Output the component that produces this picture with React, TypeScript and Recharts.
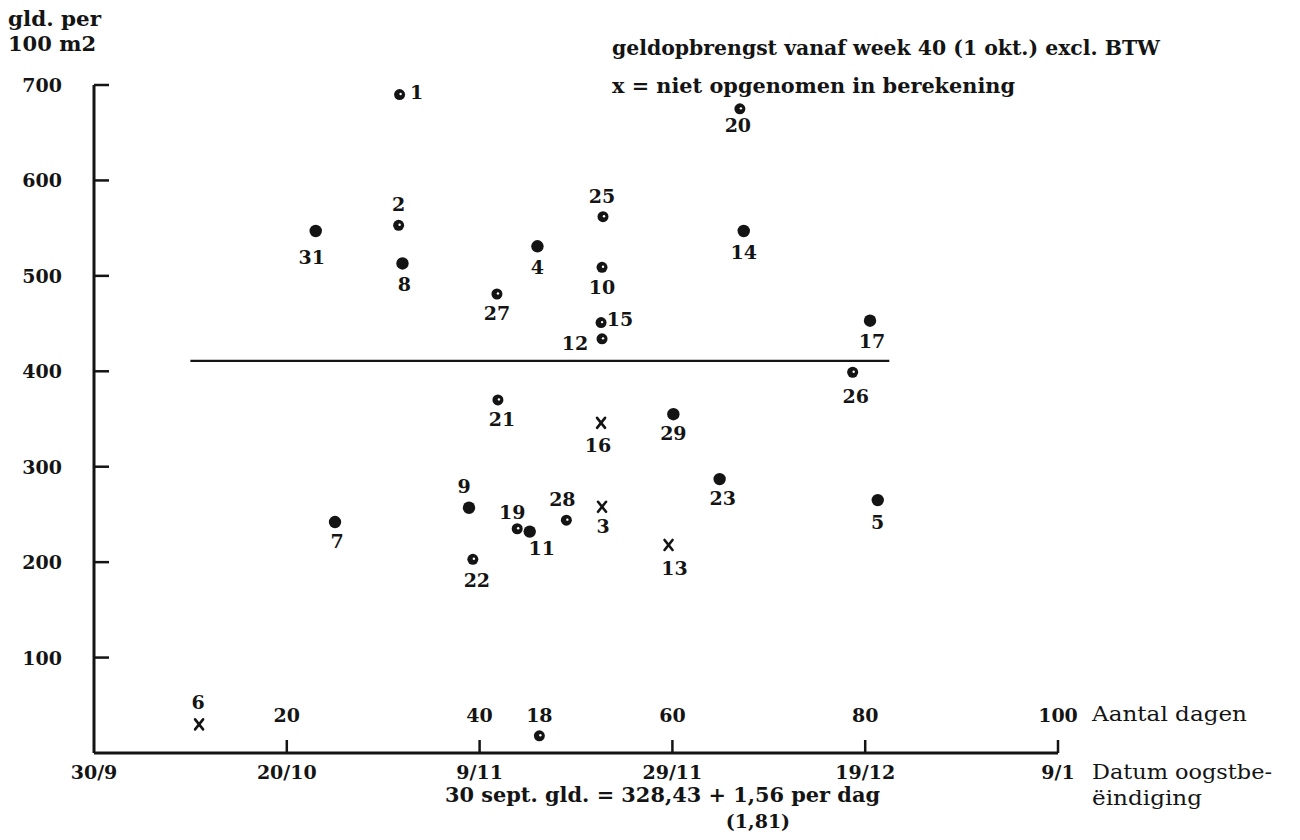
import React from "react";
import { ScatterChart, Scatter, XAxis, YAxis, ReferenceLine } from "recharts";

// ---- data ----
const pointIds = [1, 2, 3, 4, 5, 6, 7, 8, 9, 10, 11, 12, 13, 14, 15, 16, 17, 18, 19, 20, 21, 22, 23, 25, 26, 27, 28, 29, 31];
const days = [31.7, 31.6, 52.7, 46.0, 81.3, 10.9, 25.0, 32.0, 38.9, 52.7, 45.2, 52.7, 59.6, 67.4, 52.6, 52.6, 80.5, 46.2, 43.9, 67.0, 41.9, 39.3, 64.9, 52.8, 78.7, 41.8, 49.0, 60.1, 23.0];
const values = [690, 553, 258, 531, 265, 30, 242, 513, 257, 509, 232, 434, 218, 547, 451, 346, 453, 18, 235, 675, 370, 203, 287, 562, 399, 481, 244, 355, 547];
// 'o' = dot with light centre, 'f' = solid dot, 'x' = not included in calculation
const kinds = ["o", "o", "x", "f", "f", "x", "f", "f", "f", "o", "f", "o", "x", "f", "o", "x", "f", "o", "o", "o", "o", "o", "f", "o", "o", "o", "o", "f", "f"];

const yTicks = [100, 200, 300, 400, 500, 600, 700];
const xTicks = [0, 20, 40, 60, 80, 100];
const dayLabels = ["", "20", "40", "60", "80", "100"];
const dateLabels = ["30/9", "20/10", "9/11", "29/11", "19/12", "9/1"];

const meanLevel = 411;
const meanFrom = 10;
const meanTo = 82.5;

// label placement relative to each marker (layout only)
const LABEL_OFFSETS: Record<number, [number, number]> = {
  1: [17, -3], 2: [0, -21], 3: [1, 19], 4: [0, 21], 5: [0, 22], 6: [-1, -22], 7: [2, 19],
  8: [2, 21], 9: [-5, -22], 10: [0, 20], 11: [12, 16], 12: [-27, 4], 13: [6, 23], 14: [0, 21],
  15: [19, -4], 16: [-3, 22], 17: [2, 20], 18: [0, -21], 19: [-5, -17], 20: [-2, 16], 21: [4, 19],
  22: [4, 21], 23: [3, 19], 25: [-1, -21], 26: [3, 24], 27: [0, 19], 28: [-4, -21], 29: [0, 19], 31: [-4, 26],
};

const points = pointIds.map((id, i) => ({ id, day: days[i], value: values[i], kind: kinds[i] }));

const INK = "#141414";
const FONT = "'DejaVu Serif', serif";

const Marker = (props: any) => {
  const { cx, cy, payload } = props;
  if (cx == null || cy == null) return null;
  const [dx, dy] = LABEL_OFFSETS[payload.id] || [0, 20];
  let mark;
  if (payload.kind === "x") {
    mark = (
      <g stroke={INK} strokeWidth={2.6} strokeLinecap="round">
        <line x1={cx - 4} y1={cy - 5} x2={cx + 4} y2={cy + 5} />
        <line x1={cx + 4} y1={cy - 5} x2={cx - 4} y2={cy + 5} />
      </g>
    );
  } else if (payload.kind === "o") {
    mark = (
      <g>
        <circle cx={cx} cy={cy} r={5.5} fill={INK} />
        <circle cx={cx + 1} cy={cy - 0.5} r={1.2} fill="#fff" />
      </g>
    );
  } else {
    mark = <circle cx={cx} cy={cy} r={6.2} fill={INK} />;
  }
  return (
    <g>
      {mark}
      <text x={cx + dx} y={cy + dy} textAnchor="middle" dominantBaseline="central" fontFamily={FONT} fontWeight="bold" fontSize={19} fill={INK}>
        {payload.id}
      </text>
    </g>
  );
};

const YTick = (props: any) => {
  const { y, payload } = props;
  return (
    <g>
      <line x1={86} x2={101} y1={y} y2={y} stroke={INK} strokeWidth={2.5} />
      <text x={54} y={y} textAnchor="end" dominantBaseline="central" fontFamily={FONT} fontWeight="bold" fontSize={19} fill={INK}>
        {payload.value}
      </text>
    </g>
  );
};

const XTick = (props: any) => {
  const { x, y, payload, index } = props;
  const i = xTicks.indexOf(payload.value);
  const idx = i >= 0 ? i : index;
  return (
    <g>
      {payload.value !== 0 && <line x1={x} x2={x} y1={y} y2={y - 13} stroke={INK} strokeWidth={2.5} />}
      <text x={x} y={y - 38} textAnchor="middle" dominantBaseline="central" fontFamily={FONT} fontWeight="bold" fontSize={19} fill={INK}>
        {dayLabels[idx]}
      </text>
      <text x={x} y={y + 19} textAnchor="middle" dominantBaseline="central" fontFamily={FONT} fontWeight="bold" fontSize={19} fill={INK}>
        {dateLabels[idx]}
      </text>
    </g>
  );
};

const W = 1284;
const H = 824;

export default function App() {
  return (
    <div style={{ position: "relative", width: W, height: H, background: "#fff" }}>
      <ScatterChart width={W} height={H} margin={{ top: 77, right: 234, bottom: 0, left: 0 }}>
        <XAxis
          type="number"
          dataKey="day"
          domain={[0, 100]}
          ticks={xTicks}
          tick={<XTick />}
          tickLine={false}
          tickSize={0}
          tickMargin={0}
          axisLine={{ stroke: INK, strokeWidth: 3 }}
          height={79}
          interval={0}
          allowDataOverflow
        />
        <YAxis
          type="number"
          dataKey="value"
          domain={[0, 700]}
          ticks={yTicks}
          tick={<YTick />}
          tickLine={false}
          tickSize={0}
          tickMargin={0}
          axisLine={{ stroke: INK, strokeWidth: 3 }}
          width={86}
          interval={0}
          allowDataOverflow
        />
        <ReferenceLine
          segment={[{ x: meanFrom, y: meanLevel }, { x: meanTo, y: meanLevel }]}
          stroke={INK}
          strokeWidth={2.2}
        />
        <Scatter data={points} shape={<Marker />} isAnimationActive={false} />
      </ScatterChart>
      <svg width={W} height={832} style={{ position: "absolute", left: 0, top: 0, pointerEvents: "none", overflow: "visible" }}>
        <g fontFamily={FONT} fill={INK}>
          <text x={0} y={10} fontSize={21} fontWeight="bold" dominantBaseline="central" textLength={93} lengthAdjust="spacingAndGlyphs">gld. per</text>
          <text x={0} y={35} fontSize={21} fontWeight="bold" dominantBaseline="central" textLength={88} lengthAdjust="spacingAndGlyphs">100 m2</text>
          <text x={604} y={40} fontSize={20} fontWeight="bold" dominantBaseline="central" textLength={548} lengthAdjust="spacingAndGlyphs">geldopbrengst vanaf week 40 (1 okt.) excl. BTW</text>
          <text x={604} y={78} fontSize={20.5} fontWeight="bold" dominantBaseline="central" textLength={403} lengthAdjust="spacingAndGlyphs">x = niet opgenomen in berekening</text>
          <text x={1084} y={706} fontSize={21} dominantBaseline="central" textLength={155} lengthAdjust="spacingAndGlyphs">Aantal dagen</text>
          <text x={1084} y={764} fontSize={21} dominantBaseline="central" textLength={180} lengthAdjust="spacingAndGlyphs">Datum oogstbe-</text>
          <text x={1084} y={790} fontSize={21} dominantBaseline="central" textLength={110} lengthAdjust="spacingAndGlyphs">ëindiging</text>
          <text x={437} y={787} fontSize={20} fontWeight="bold" dominantBaseline="central" textLength={435} lengthAdjust="spacingAndGlyphs">30 sept. gld. = 328,43 + 1,56 per dag</text>
          <text x={750} y={813} fontSize={19} fontWeight="bold" textAnchor="middle" dominantBaseline="central">(1,81)</text>
        </g>
      </svg>
    </div>
  );
}
